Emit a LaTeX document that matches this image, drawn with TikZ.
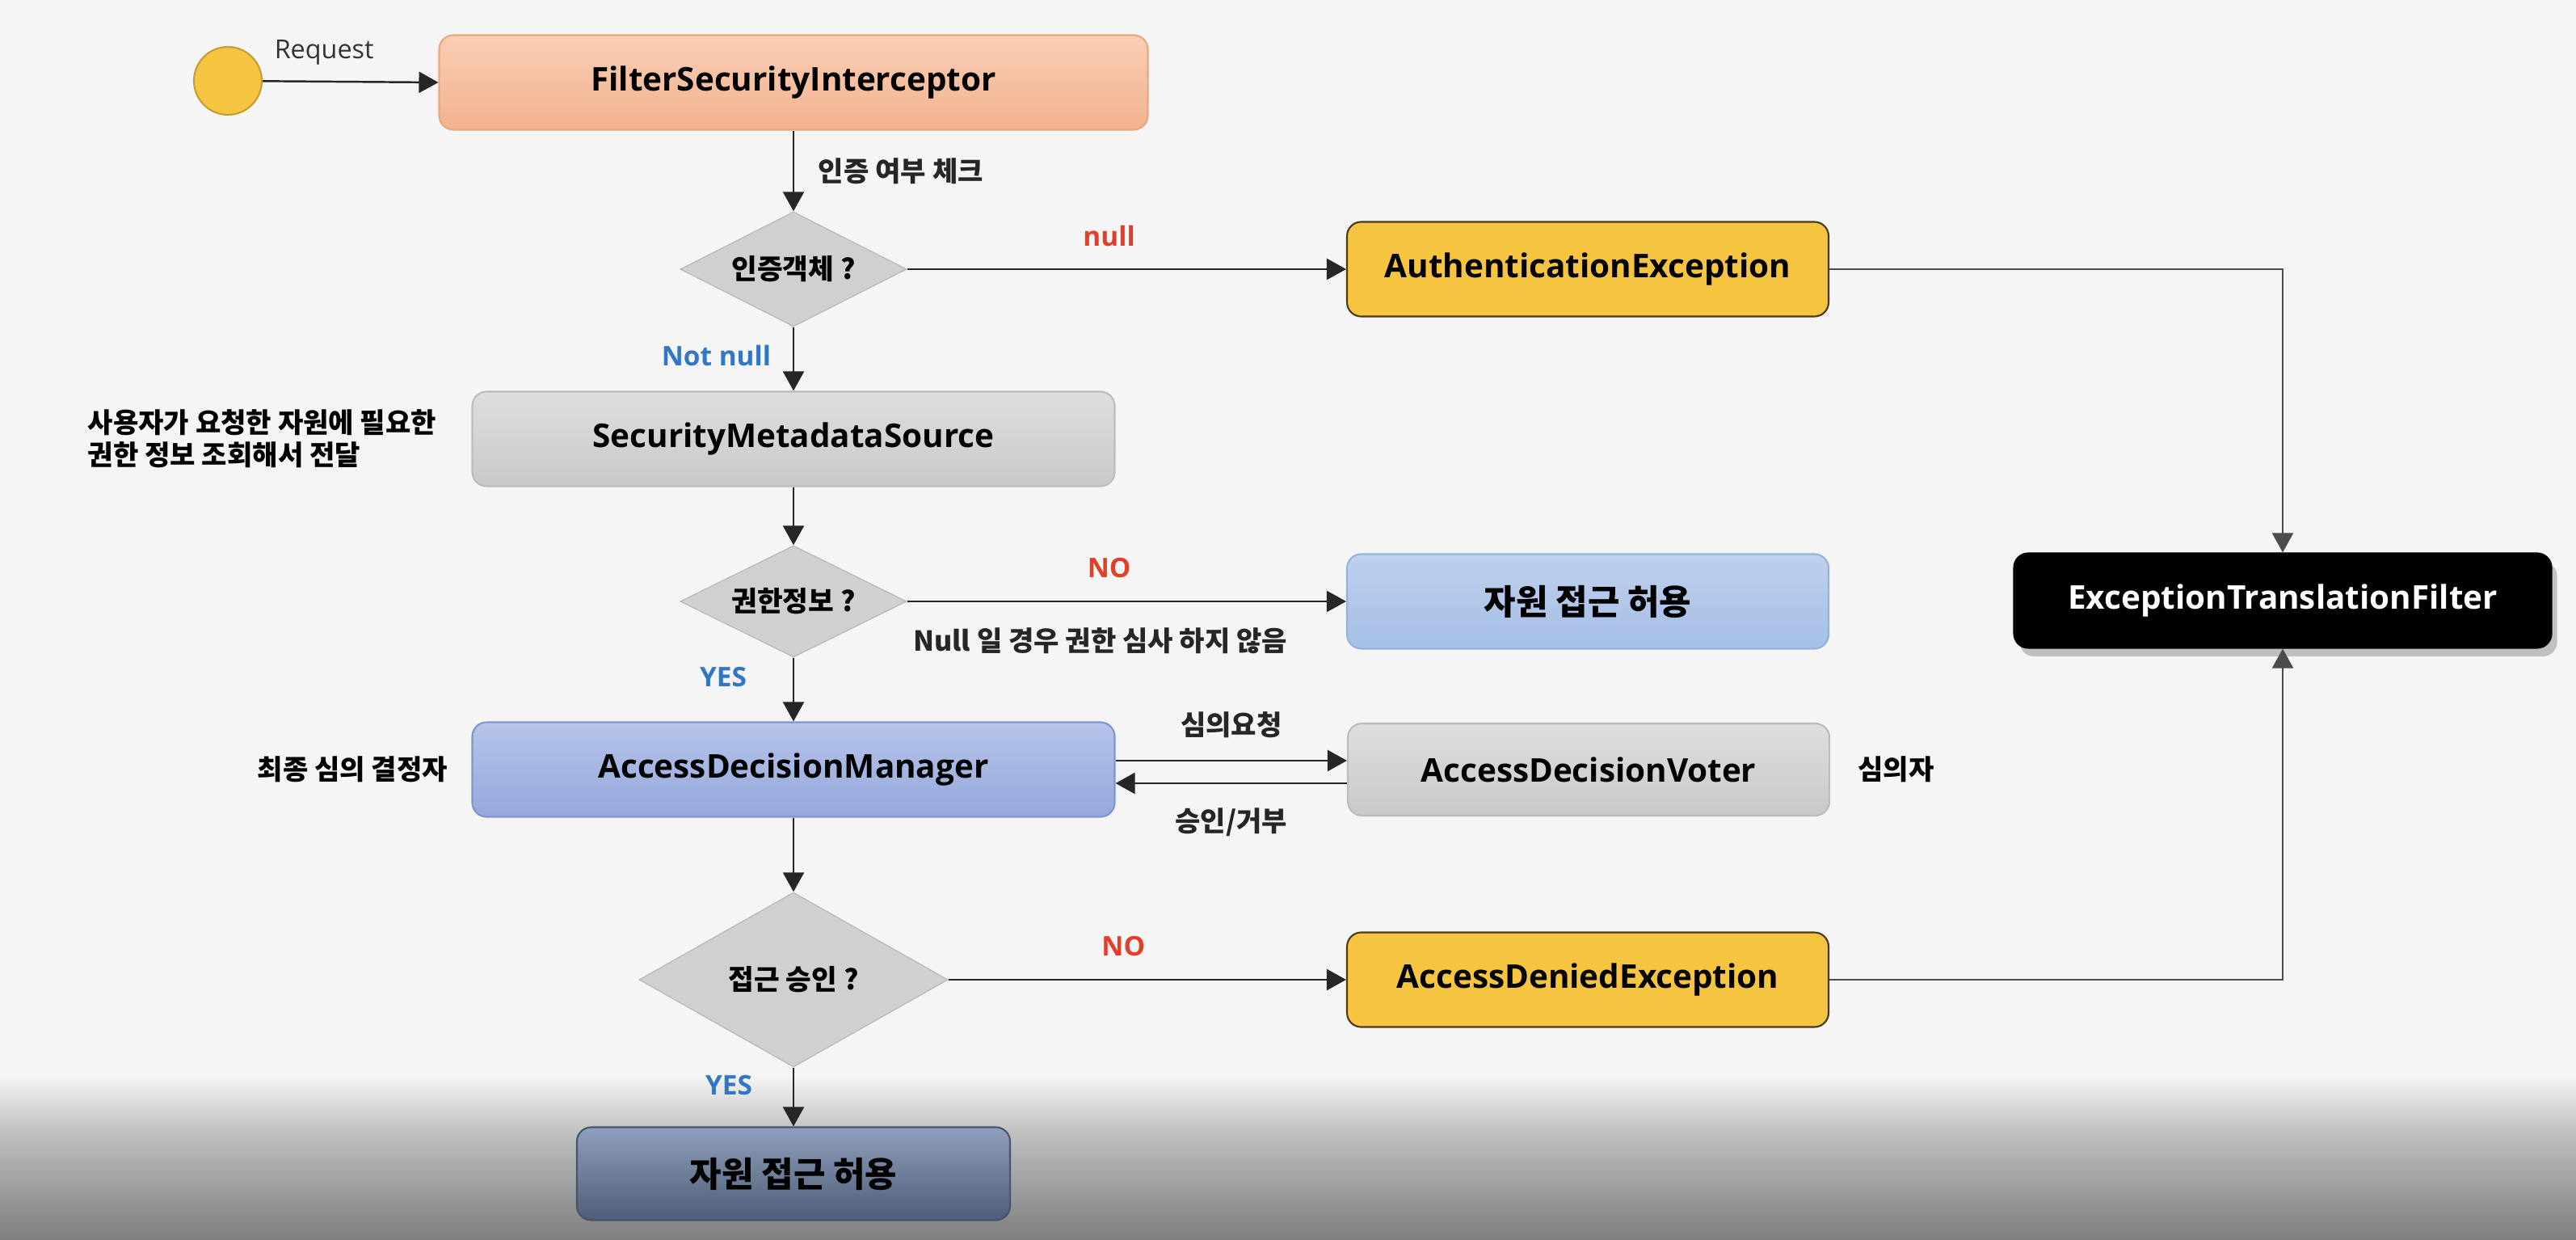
\documentclass[tikz,border=0pt]{standalone}
\usepackage{fontspec}
\setmainfont{Open Sans}
\newfontfamily\kr{Noto Sans CJK KR}
\usetikzlibrary{shapes.geometric, arrows.meta, positioning, backgrounds, shadows}
\definecolor{paper}{RGB}{245,245,245}
\definecolor{fadeA}{RGB}{192,192,192}
\definecolor{fadeB}{RGB}{126,126,126}
\definecolor{fsitop}{RGB}{249,206,182}
\definecolor{fsibot}{RGB}{242,178,142}
\definecolor{fsiline}{RGB}{238,166,118}
\definecolor{excfill}{RGB}{245,197,66}
\definecolor{excline}{RGB}{72,58,24}
\definecolor{greytop}{RGB}{222,222,222}
\definecolor{greybot}{RGB}{201,201,201}
\definecolor{greyline}{RGB}{188,188,188}
\definecolor{condfill}{RGB}{208,208,208}
\definecolor{skytop}{RGB}{192,208,236}
\definecolor{skybot}{RGB}{164,191,230}
\definecolor{skyline}{RGB}{148,178,222}
\definecolor{mgrtop}{RGB}{182,196,233}
\definecolor{mgrbot}{RGB}{150,168,220}
\definecolor{mgrline}{RGB}{128,148,208}
\definecolor{slatetop}{RGB}{143,160,188}
\definecolor{slatebot}{RGB}{78,93,120}
\definecolor{slateline}{RGB}{70,84,110}
\definecolor{noRed}{RGB}{226,62,40}
\definecolor{yesBlue}{RGB}{50,118,196}

\begin{document}
\begin{tikzpicture}[
  box/.style={draw, rounded corners=5pt, minimum width=5.96cm, minimum height=1.17cm, font=\fontsize{11.5}{13}\selectfont\bfseries, align=center, line width=0.6pt},
  krbox/.style={box, font=\kr\fontsize{12.2}{14}\selectfont\bfseries},
  cond/.style={diamond, draw=greyline, fill=condfill, inner sep=0pt, aspect=2, font=\kr\fontsize{9.8}{11}\selectfont\bfseries},
  lbl/.style={font=\kr\fontsize{9.7}{11.5}\selectfont\bfseries, align=left},
  tag/.style={font=\fontsize{9.5}{11}\selectfont\bfseries},
  arr/.style={-{Triangle[length=0.24cm, width=0.26cm]}, line width=0.7pt, color=black!85},
  link/.style={arr, line width=0.6pt, color=black!70}
]
\useasboundingbox (0,0) rectangle (31.88,-15.34);

% --- Backdrop ---
\begin{scope}[on background layer]
\fill[paper] (0,0) rectangle (31.88,-15.34);
\shade[top color=paper, bottom color=fadeA] (0,-13.3) rectangle (31.88,-14.0);
\shade[top color=fadeA, bottom color=fadeB] (0,-14.0) rectangle (31.88,-15.34);
\end{scope}

% --- Main column ---
\node[circle, draw=excfill!80!black, fill=excfill, minimum size=0.84cm, line width=0.6pt] (start) at (2.82,-1.00) {};
\node[box, minimum width=8.77cm, top color=fsitop, bottom color=fsibot, draw=fsiline] (fsi) at (9.82,-1.02) {FilterSecurityInterceptor};
\node[cond, minimum width=2.80cm, minimum height=1.42cm] (authq) at (9.82,-3.33) {인증객체 ?};
\node[box, minimum width=7.95cm, top color=greytop, bottom color=greybot, draw=greyline] (sms) at (9.82,-5.43) {SecurityMetadataSource};
\node[cond, minimum width=2.80cm, minimum height=1.38cm] (attrq) at (9.82,-7.44) {권한정보 ?};
\node[box, minimum width=7.95cm, minimum height=1.17cm, top color=mgrtop, bottom color=mgrbot, draw=mgrline] (adm) at (9.82,-9.52) {AccessDecisionManager};
\node[cond, minimum width=3.82cm, minimum height=2.16cm, aspect=1.77] (grantq) at (9.82,-12.12) {접근 승인 ?};
\node[krbox, minimum width=5.36cm, minimum height=1.15cm, top color=slatetop, bottom color=slatebot, draw=slateline] (granted) at (9.82,-14.52) {자원 접근 허용};

% --- Right column ---
\node[box, fill=excfill, draw=excline] (authex) at (19.65,-3.33) {AuthenticationException};
\node[krbox, top color=skytop, bottom color=skybot, draw=skyline] (skip) at (19.65,-7.44) {자원 접근 허용};
\node[box, minimum height=1.14cm, top color=greytop, bottom color=greybot, draw=greyline] (adv) at (19.66,-9.52) {AccessDecisionVoter};
\node[box, fill=excfill, draw=excline] (denied) at (19.65,-12.12) {AccessDeniedException};
\node[box, minimum width=6.65cm, fill=black, draw=black, text=white, drop shadow={opacity=0.45, shadow xshift=2pt, shadow yshift=-3pt}] (etf) at (28.25,-7.43) {ExceptionTranslationFilter};

% --- Side notes ---
\node[lbl, left=0.31cm of sms] (smsnote) {사용자가 요청한 자원에 필요한\\권한 정보 조회해서 전달};
\node[lbl, left=0.17cm of adm] (admnote) {최종 심의 결정자};
\node[lbl, right=0.22cm of adv] (advnote) {심의자};

% --- Flow ---
\draw[arr] (start) -- node[above=0.08cm, pos=0.35, font=\fontsize{9.2}{11}\selectfont, text=black!80]{Request} (fsi.west);
\draw[arr] (fsi.south) -- node[lbl, right=0.18cm, pos=0.5]{인증 여부 체크} (authq.north);
\draw[arr] (authq.east) -- node[tag, text=noRed, above=0.15cm, pos=0.46]{null} (authex.west);
\draw[arr] (authq.south) -- node[tag, text=yesBlue, left=0.15cm, pos=0.45]{Not null} (sms.north);
\draw[arr] (sms.south) -- (attrq.north);
\draw[arr] (attrq.east) -- node[tag, text=noRed, above=0.16cm, pos=0.46]{NO} node[lbl, below=0.2cm, pos=0.44]{Null 일 경우 권한 심사 하지 않음} (skip.west);
\draw[arr] (attrq.south) -- node[tag, text=yesBlue, left=0.45cm, pos=0.3]{YES} (adm.north);
\draw[arr] ([yshift=0.11cm]adm.east) -- node[lbl, above=0.15cm]{심의요청} ([yshift=0.11cm]adv.west);
\draw[arr] ([yshift=-0.17cm]adv.west) -- node[lbl, below=0.18cm]{승인/거부} ([yshift=-0.17cm]adm.east);
\draw[arr] (adm.south) -- (grantq.north);
\draw[arr] (grantq.east) -- node[tag, text=noRed, above=0.16cm, pos=0.44]{NO} (denied.west);
\draw[arr] (grantq.south) -- node[tag, text=yesBlue, left=0.38cm, pos=0.3]{YES} (granted.north);

% --- Exceptions to the filter ---
\draw[link] (authex.east) -| (etf.north);
\draw[link] (denied.east) -| (etf.south);

\end{tikzpicture}
\end{document}
